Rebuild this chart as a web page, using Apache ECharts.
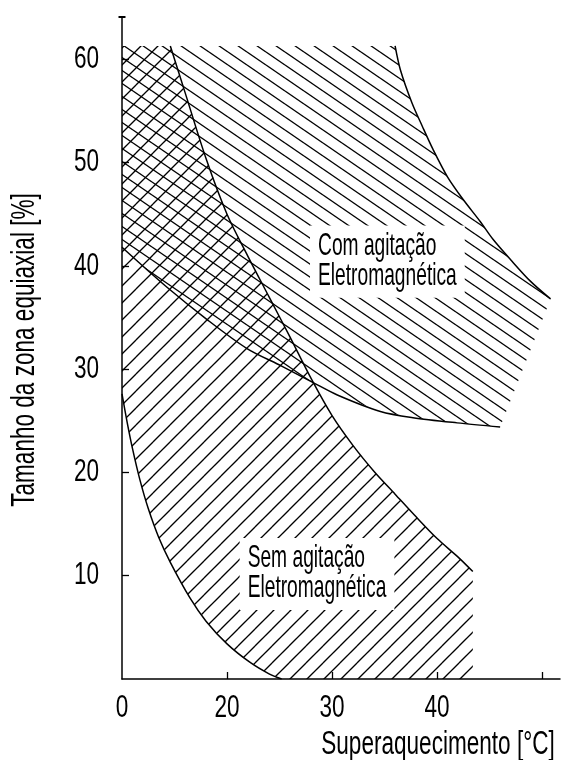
<!DOCTYPE html>
<html>
<head>
<meta charset="utf-8">
<script src="https://cdn.jsdelivr.net/npm/echarts@6/dist/echarts.min.js"></script>
<style>
  html, body { margin: 0; padding: 0; background: #fff; }
  #chart { width: 561px; height: 760px; }
</style>
</head>
<body>
<div id="chart"></div>
<script>
// Axis ticks and their printed labels
const xTickValues = [10, 20, 30, 40];
const xLabelValues = [0, 10, 20, 30];
const xTickLabels = ['0', '20', '30', '40', ''];
const yTickValues = [10, 20, 30, 40, 50, 60];
const xTitle = 'Superaquecimento [°C]';
const yTitle = 'Tamanho da zona equiaxial [%]';

// Upper limit of both hatched zones
const yTop = 61.3;

// "Sem agitação" zone: upper-right boundary (top to bottom)
const semUpper = [
  [4.6, 61.3], [6, 56.8], [8, 50.4], [10, 45.0], [12, 40.9], [14, 37.0],
  [16, 33.1], [18, 29.1], [20, 25.5], [22, 22.6], [24, 20.1], [26, 17.9],
  [28, 15.7], [30, 13.6], [32, 11.8], [33.4, 10.4]
];
// "Sem agitação" zone: lower-left boundary (from the y axis to the x axis)
const semLower = [
  [0, 27.6], [0.5, 24.8], [1.0, 22.3], [1.7, 19.3], [2.5, 16.5], [3.5, 13.7],
  [4.6, 11.3], [6.5, 7.8], [8, 5.6], [10, 3.4], [12.2, 1.6], [14, 0.5], [15.2, 0]
];
// "Com agitação" zone: upper-right boundary (top to bottom)
const comUpper = [
  [26.0, 61.3], [26.5, 59.0], [27.6, 55.8], [28.6, 53.5], [29.6, 51.3],
  [31.0, 48.6], [32.5, 46.4], [34.1, 44.3], [35.3, 42.6], [37.0, 40.6],
  [38.9, 38.5], [40.8, 36.8]
];
// "Com agitação" zone: lower boundary (from the y axis to the right)
const comLower = [
  [0, 41.8], [4.2, 38.0], [8.1, 34.8], [11.9, 32.0], [15.2, 30.3], [18.2, 28.7],
  [20.5, 27.5], [24.6, 25.9], [27.7, 25.3], [31.9, 24.8], [36.0, 24.4]
];

// Zone captions and their anchor (top-left corner of the caption box)
const semLabel = ['Sem agitação', 'Eletromagnética'];
const comLabel = ['Com agitação', 'Eletromagnética'];
const semLabelPos = [11.2, 13.65];
const comLabelPos = [17.9, 43.9];

const FONT = '"Liberation Sans", Arial, sans-serif';

// Closed outlines of the two zones
const semPolygon = [[0, yTop]].concat(semUpper, [[semUpper[semUpper.length - 1][0], 0]], semLower.slice().reverse());
const comPolygon = [[0, yTop]].concat(comUpper, comLower.slice().reverse());

// Tileable hatch: one diagonal per tile of size w x h
function makeHatch(w, h, dir) {
  const c = document.createElement('canvas');
  c.width = w; c.height = h;
  const g = c.getContext('2d');
  g.strokeStyle = '#000';
  g.lineWidth = 1.3;
  for (const dx of [-w, 0, w]) {
    for (const dy of [-h, 0, h]) {
      g.beginPath();
      if (dir === '/') { g.moveTo(dx, dy + h); g.lineTo(dx + w, dy); }
      else { g.moveTo(dx, dy); g.lineTo(dx + w, dy + h); }
      g.stroke();
    }
  }
  return c;
}
const semHatch = makeHatch(17, 17, '/');
const comHatch = makeHatch(19, 13, '\\');

function zoneSeries(poly, tile) {
  return {
    type: 'custom',
    silent: true,
    z: 1,
    data: [0],
    renderItem: function (params, api) {
      return {
        type: 'polygon',
        shape: { points: poly.map(p => api.coord(p)) },
        style: { fill: { image: tile, repeat: 'repeat' }, stroke: null }
      };
    }
  };
}

function edgeSeries(pts) {
  return {
    type: 'line',
    data: pts,
    symbol: 'none',
    silent: true,
    smooth: 0.3,
    z: 3,
    lineStyle: { color: '#000', width: 1.5 }
  };
}

// Condensed lettering: horizontally narrowed, vertically stretched text
function condensedText(str, size, extra) {
  return Object.assign({
    font: size + 'px ' + FONT,
    fill: '#000',
    text: str
  }, extra || {});
}

function captionSeries(lines, pos) {
  return {
    type: 'custom',
    silent: true,
    z: 5,
    data: [0],
    renderItem: function (params, api) {
      const p = api.coord(pos);
      return {
        type: 'text',
        x: p[0], y: p[1],
        scaleX: 0.8, scaleY: 1.34,
        style: condensedText(lines.join('\n'), 24, {
          lineHeight: 22.4,
          align: 'left',
          verticalAlign: 'top',
          backgroundColor: '#fff',
          padding: [4, 10, 5, 10]
        })
      };
    }
  };
}

// Tick labels placed through the axis scale
function xLabelSeries() {
  return {
    type: 'custom',
    silent: true,
    z: 6,
    clip: false,
    data: xLabelValues,
    renderItem: function (params, api) {
      const p = api.coord([api.value(0), 0]);
      return {
        type: 'text',
        x: p[0], y: p[1] + 29,
        scaleX: 0.94, scaleY: 1.3,
        style: condensedText(xTickLabels[params.dataIndex], 24, { align: 'center', verticalAlign: 'middle' })
      };
    }
  };
}
function yLabelSeries() {
  return {
    type: 'custom',
    silent: true,
    z: 6,
    clip: false,
    data: yTickValues.map(v => [0, v]),
    renderItem: function (params, api) {
      const p = api.coord([0, api.value(1)]);
      return {
        type: 'text',
        x: p[0] - 23, y: p[1],
        scaleX: 0.94, scaleY: 1.3,
        style: condensedText(String(api.value(1)), 24, { align: 'right', verticalAlign: 'middle' })
      };
    }
  };
}

const chart = echarts.init(document.getElementById('chart'), null, { renderer: 'canvas' });
chart.setOption({
  animation: false,
  backgroundColor: '#fff',
  grid: { left: 122, right: 1, top: 17, bottom: 81, containLabel: false, outerBoundsMode: 'none' },
  xAxis: {
    type: 'value',
    min: 0, max: 41.7,
    axisLine: { show: true, lineStyle: { color: '#000', width: 1.5 } },
    axisTick: { show: true, inside: true, length: 7, customValues: xTickValues, lineStyle: { color: '#000', width: 1.3 } },
    axisLabel: { show: false },
    splitLine: { show: false }
  },
  yAxis: {
    type: 'value',
    min: 0, max: 64.1,
    axisLine: { show: true, symbol: ['none', 'rect'], symbolSize: [7, 2], lineStyle: { color: '#000', width: 1.5 } },
    axisTick: { show: true, inside: true, length: 7, customValues: yTickValues, lineStyle: { color: '#000', width: 1.3 } },
    axisLabel: { show: false },
    splitLine: { show: false }
  },
  graphic: [
    {
      type: 'text',
      x: 438, y: 744.5,
      scaleX: 0.94, scaleY: 1.4,
      silent: true,
      style: condensedText(xTitle, 24, { align: 'center', verticalAlign: 'middle' })
    },
    {
      type: 'text',
      x: 25, y: 350,
      rotation: Math.PI / 2,
      scaleX: 0.94, scaleY: 1.4,
      silent: true,
      style: condensedText(yTitle, 24, { align: 'center', verticalAlign: 'middle' })
    }
  ],
  series: [
    zoneSeries(semPolygon, semHatch),
    zoneSeries(comPolygon, comHatch),
    edgeSeries(semUpper),
    edgeSeries(semLower),
    edgeSeries(comUpper),
    edgeSeries(comLower),
    captionSeries(comLabel, comLabelPos),
    captionSeries(semLabel, semLabelPos),
    xLabelSeries(),
    yLabelSeries()
  ]
});
</script>
</body>
</html>
